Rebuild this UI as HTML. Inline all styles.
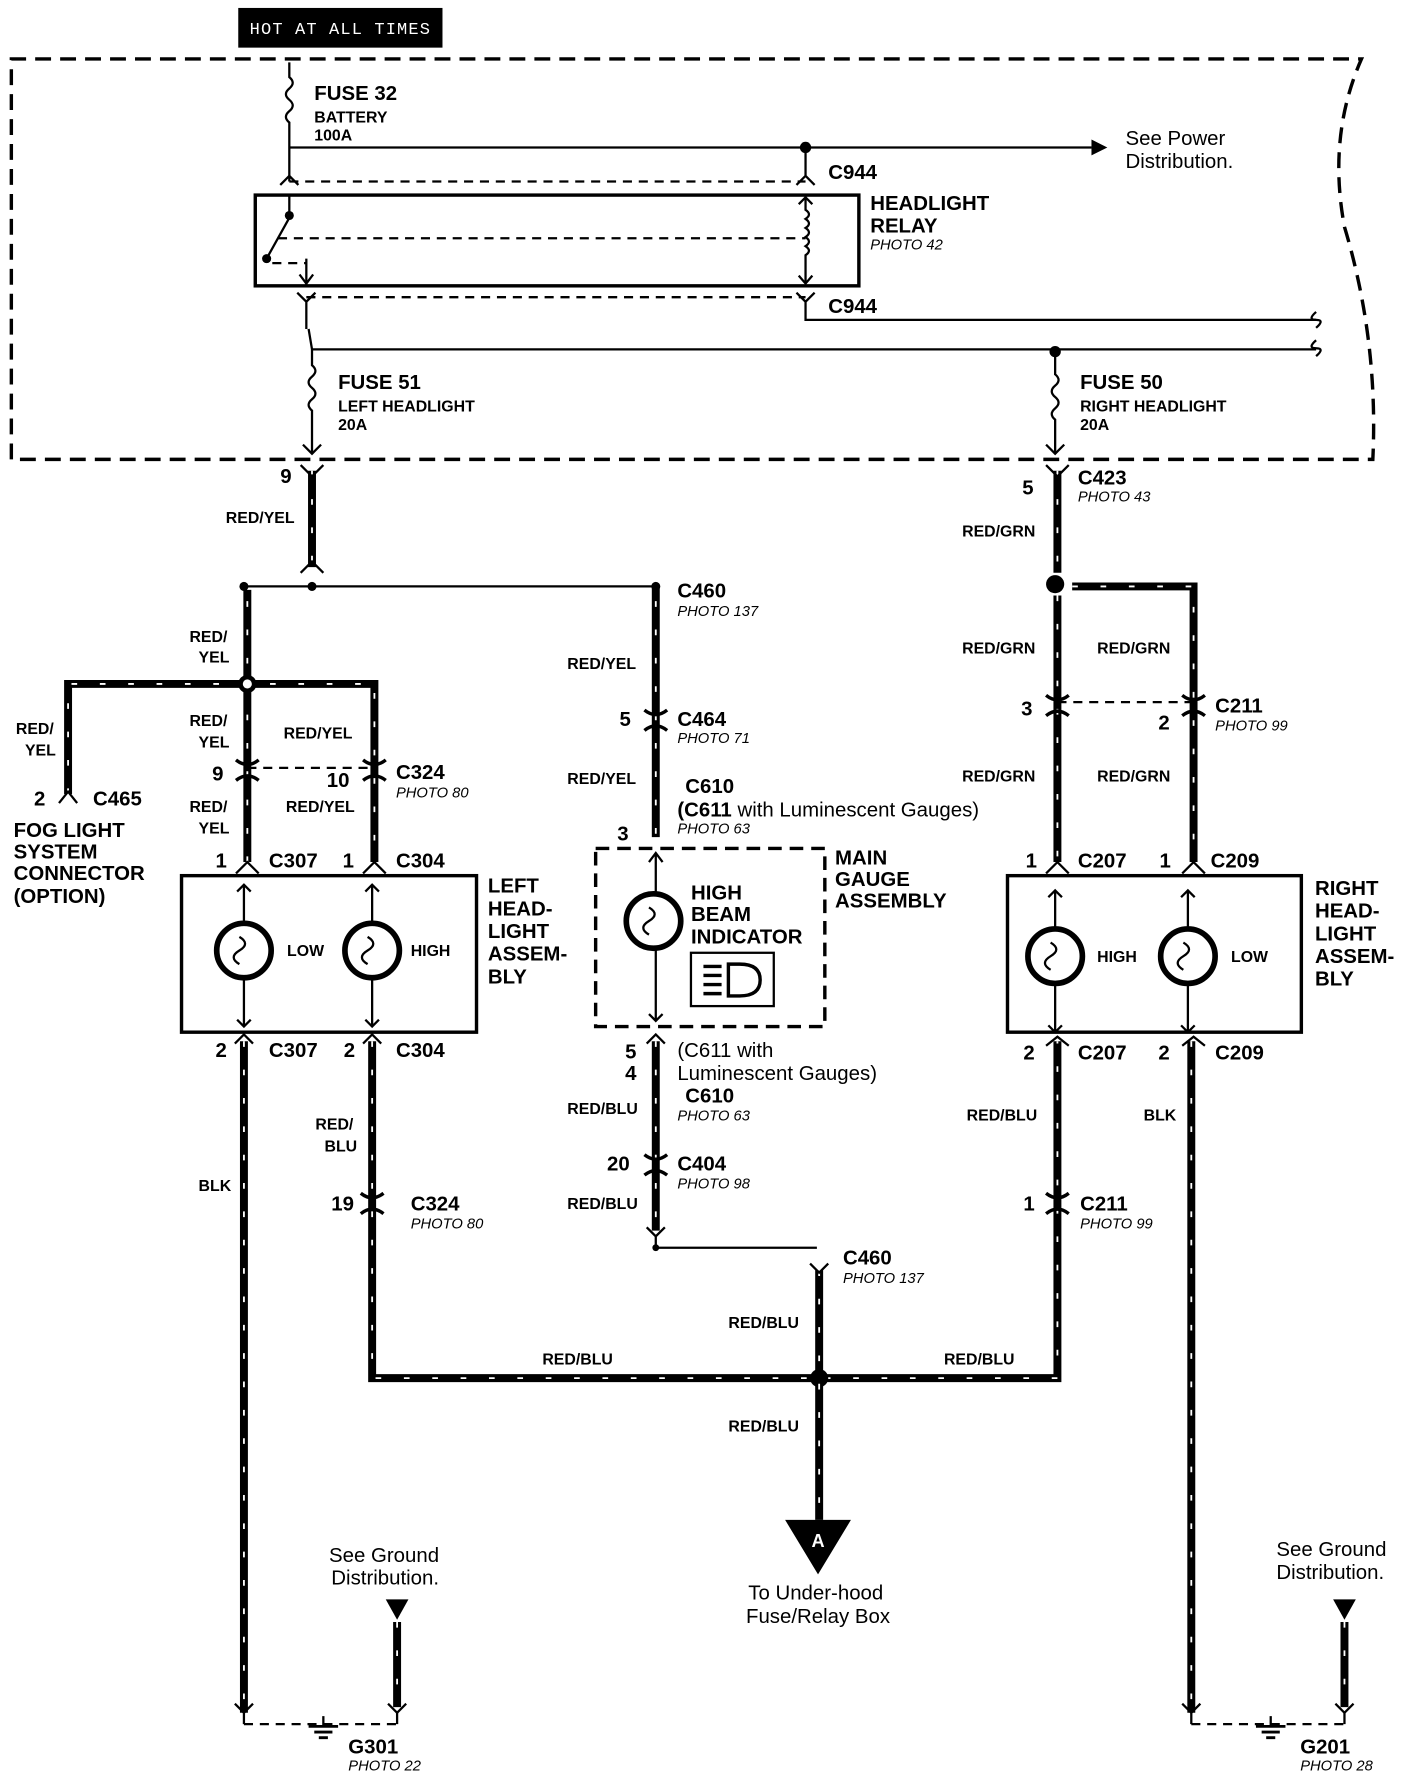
<!DOCTYPE html>
<html><head><meta charset="utf-8"><style>
html,body{margin:0;padding:0;background:#fff}
svg{display:block}
text{font-family:"Liberation Sans",Arial,sans-serif;fill:#000}
.b{font-weight:bold;font-size:18px}
.s{font-weight:bold;font-size:14px}
.i{font-style:italic;font-size:13px}
.n{font-size:18px}
.w{stroke:#000;stroke-width:7;fill:none}
.wd{stroke:#fff;stroke-width:1.6;stroke-dasharray:5 20;fill:none}
.t{stroke:#000;stroke-width:2;fill:none}
.d{stroke:#000;stroke-width:2;stroke-dasharray:8 6;fill:none}
.c{stroke:#000;stroke-width:3;fill:none}
</style></head><body>
<svg width="1408" height="1774" viewBox="0 0 1241 1564" preserveAspectRatio="none" xmlns="http://www.w3.org/2000/svg">
<rect x="210" y="7" width="180" height="35" fill="#000"/>
<text x="300" y="30" text-anchor="middle" style="fill:#fff;font-size:15px;font-family:'Liberation Mono',monospace;letter-spacing:1px">HOT AT ALL TIMES</text>
<path d="M10,405 L10,52 L1200,52 Q1170,120 1185,200 Q1215,300 1210,405 L10,405" fill="none" stroke="#000" stroke-width="3" stroke-dasharray="14 8"/>
<path class="t" d="M255,55 L255,68 q6,5 0,10 q-6,5 0,10 q6,5 0,10 q-6,5 0,10 L255,160"/>
<text class="b" x="277" y="88">FUSE 32</text><text class="s" x="277" y="108">BATTERY</text><text class="s" x="277" y="124">100A</text>
<line class="t" x1="255" y1="130" x2="962" y2="130"/><polygon points="962,123 976,130 962,137"/>
<circle cx="710" cy="130" r="5"/>
<text class="n" x="992" y="128">See Power</text><text class="n" x="992" y="148">Distribution.</text>
<path class="t" d="M710,130 L710,155 M702,163 L710,155 L718,163 M247,163 L255,155 L263,163"/>
<line class="d" x1="255" y1="160" x2="710" y2="160"/>
<text class="b" x="730" y="158">C944</text>
<rect x="225" y="172" width="532" height="80" fill="none" stroke="#000" stroke-width="3"/>
<text class="b" x="767" y="185">HEADLIGHT</text><text class="b" x="767" y="205">RELAY</text><text class="i" x="767" y="220">PHOTO 42</text>
<path class="t" d="M255,172 L255,190 M235,228 L255,192 M270,228 L270,252"/>
<circle cx="235" cy="228" r="4"/><circle cx="255" cy="190" r="4"/>
<line class="d" x1="245" y1="210" x2="710" y2="210"/><line class="d" x1="240" y1="232" x2="270" y2="232"/>
<path class="t" d="M710,172 L710,185 q6,4 0,8 q6,4 0,8 q6,4 0,8 q6,4 0,8 q6,4 0,8 L710,250 M704,243 L710,250 L716,243 M704,180 L710,174 L716,180 M264,242 L270,250 L276,242"/>
<path class="t" d="M262,258 L270,266 L278,258 M702,258 L710,266 L718,258 M270,266 L270,290 M710,266 L710,282 L1160,282"/>
<line class="d" x1="270" y1="262" x2="710" y2="262"/>
<text class="b" x="730" y="276">C944</text>
<path class="t" d="M1160,275 q-8,7 0,7 q8,0 0,7 M1160,300 q-8,7 0,7 q8,0 0,7"/>
<line class="t" x1="275" y1="308" x2="1160" y2="308"/>
<circle cx="930" cy="310" r="5"/>
<path class="t" d="M272,290 L275,308 L275,322 q6,5 0,10 q-6,5 0,10 q6,5 0,10 q-6,5 0,10 L275,400 M267,392 L275,400 L283,392"/>
<path class="t" d="M930,310 L930,330 q6,5 0,10 q-6,5 0,10 q6,5 0,10 q-6,5 0,10 L930,400 M922,392 L930,400 L938,392"/>
<text class="b" x="298" y="343">FUSE 51</text><text class="s" x="298" y="363">LEFT HEADLIGHT</text><text class="s" x="298" y="379">20A</text>
<text class="b" x="952" y="343">FUSE 50</text><text class="s" x="952" y="363">RIGHT HEADLIGHT</text><text class="s" x="952" y="379">20A</text>
<text class="b" x="247" y="426">9</text><text class="b" x="901" y="436">5</text>
<text class="b" x="950" y="427">C423</text><text class="i" x="950" y="442">PHOTO 43</text>
<path class="w" d="M275,415 L275,500"/><path class="wd" d="M275,415 L275,500"/>
<path class="t" d="M265,410 L275,420 L285,410 M265,505 L275,495 L285,505"/>
<text class="s" x="199" y="461">RED/YEL</text>
<line class="t" x1="215" y1="517" x2="578" y2="517"/>
<circle cx="215" cy="517" r="4"/><circle cx="275" cy="517" r="4"/><circle cx="578" cy="517" r="4"/>
<text class="b" x="597" y="527">C460</text><text class="i" x="597" y="543">PHOTO 137</text>
<path class="w" d="M218,520 L218,760"/><path class="wd" d="M218,530 L218,760"/>
<path class="w" d="M60,700 L60,603 L330,603 L330,760"/><path class="wd" d="M60,700 L60,603 L330,603 L330,760"/>
<circle cx="218" cy="603" r="8" fill="#000"/><circle cx="218" cy="603" r="4" fill="#fff"/>
<path class="t" d="M52,708 L60,698 L68,708"/>
<text class="s" x="167" y="566">RED/</text><text class="s" x="175" y="584">YEL</text>
<text class="s" x="14" y="647">RED/</text><text class="s" x="22" y="666">YEL</text>
<text class="s" x="167" y="640">RED/</text><text class="s" x="175" y="659">YEL</text>
<text class="s" x="250" y="651">RED/YEL</text>
<text class="s" x="167" y="716">RED/</text><text class="s" x="175" y="735">YEL</text>
<text class="s" x="252" y="716">RED/YEL</text>
<line class="d" x1="218" y1="677" x2="330" y2="677"/>
<path class="c" d="M208,670 q10,8 20,0 M208,688 q10,-8 20,0 M320,670 q10,8 20,0 M320,688 q10,-8 20,0"/>
<text class="b" x="187" y="688">9</text><text class="b" x="288" y="694">10</text>
<text class="b" x="349" y="687">C324</text><text class="i" x="349" y="703">PHOTO 80</text>
<text class="b" x="30" y="710">2</text><text class="b" x="82" y="710">C465</text>
<text class="b" x="12" y="738">FOG LIGHT</text><text class="b" x="12" y="757">SYSTEM</text><text class="b" x="12" y="776">CONNECTOR</text><text class="b" x="12" y="796">(OPTION)</text>
<path class="t" d="M208,770 L218,760 L228,770 M320,770 L330,760 L340,770"/>
<text class="b" x="190" y="765">1</text><text class="b" x="237" y="765">C307</text><text class="b" x="302" y="765">1</text><text class="b" x="349" y="765">C304</text>
<rect x="160" y="772" width="260" height="138" fill="none" stroke="#000" stroke-width="3"/>
<text class="b" x="430" y="787">LEFT</text><text class="b" x="430" y="807">HEAD-</text><text class="b" x="430" y="827">LIGHT</text><text class="b" x="430" y="847">ASSEM-</text><text class="b" x="430" y="867">BLY</text>
<g id="lampL">
<path class="t" d="M215,780 L215,813 M209,786 L215,780 L221,786 M215,863 L215,905 M209,899 L215,905 L221,899"/>
<circle cx="215" cy="838" r="24" fill="none" stroke="#000" stroke-width="5"/>
<path class="t" d="M211,826 q10,6 0,12 q-10,6 0,12"/>
</g>
<use href="#lampL" x="113"/>
<text class="s" x="253" y="843">LOW</text><text class="s" x="362" y="843">HIGH</text>
<path class="t" d="M207,920 L215,912 L223,920 M320,920 L328,912 L336,920"/>
<text class="b" x="190" y="932">2</text><text class="b" x="237" y="932">C307</text><text class="b" x="303" y="932">2</text><text class="b" x="349" y="932">C304</text>
<path class="w" d="M215,918 L215,1510"/><path class="wd" d="M215,918 L215,1510"/>
<text class="s" x="175" y="1050">BLK</text>
<path class="w" d="M328,918 L328,1215 L717,1215"/><path class="wd" d="M328,918 L328,1215 L717,1215"/>
<path class="w" d="M727,1215 L932,1215 L932,918"/><path class="wd" d="M727,1215 L932,1215 L932,918"/>
<text class="s" x="278" y="996">RED/</text><text class="s" x="286" y="1015">BLU</text>
<path class="c" d="M318,1052 q10,8 20,0 M318,1070 q10,-8 20,0"/>
<text class="b" x="292" y="1067">19</text><text class="b" x="362" y="1067">C324</text><text class="i" x="362" y="1083">PHOTO 80</text>
<text class="s" x="478" y="1203">RED/BLU</text><text class="s" x="832" y="1203">RED/BLU</text>
<circle cx="722" cy="1215" r="8"/>
<path class="w" d="M578,517 L578,738"/><path class="wd" d="M578,530 L578,738"/>
<path class="c" d="M568,626 q10,8 20,0 M568,644 q10,-8 20,0"/>
<text class="s" x="500" y="590">RED/YEL</text><text class="s" x="500" y="691">RED/YEL</text>
<text class="b" x="546" y="640">5</text><text class="b" x="597" y="640">C464</text><text class="i" x="597" y="655">PHOTO 71</text>
<text class="b" x="604" y="699">C610</text><text class="n" x="597" y="720"><tspan font-weight="bold">(C611</tspan> with Luminescent Gauges)</text><text class="i" x="597" y="735">PHOTO 63</text>
<text class="b" x="544" y="741">3</text>
<rect x="525" y="748" width="202" height="157" fill="none" stroke="#000" stroke-width="3" stroke-dasharray="12 7"/>
<text class="b" x="736" y="762">MAIN</text><text class="b" x="736" y="781">GAUGE</text><text class="b" x="736" y="800">ASSEMBLY</text>
<path class="t" d="M578,752 L578,788 M572,760 L578,752 L584,760 M578,837 L578,900 M572,894 L578,900 L584,894"/>
<circle cx="576" cy="812" r="24" fill="none" stroke="#000" stroke-width="5"/>
<path class="t" d="M572,800 q10,6 0,12 q-10,6 0,12"/>
<text class="b" x="609" y="793">HIGH</text><text class="b" x="609" y="812">BEAM</text><text class="b" x="609" y="832">INDICATOR</text>
<rect x="609" y="840" width="73" height="47" fill="none" stroke="#000" stroke-width="2"/>
<path d="M642,850 L642,878 L652,878 q18,0 18,-14 q0,-14 -18,-14 Z" fill="none" stroke="#000" stroke-width="3"/>
<path d="M620,852 h16 M620,860 h16 M620,868 h16 M620,876 h16" stroke="#000" stroke-width="3"/>
<path class="w" d="M578,918 L578,1085"/><path class="wd" d="M578,918 L578,1085"/>
<path class="t" d="M570,920 L578,912 L586,920 M570,1082 L578,1090 L586,1082 M578,1090 L578,1100 L720,1100"/>
<circle cx="578" cy="1100" r="3"/>
<text class="b" x="551" y="933">5</text><text class="b" x="551" y="952">4</text>
<text class="n" x="597" y="932">(C611 with</text><text class="n" x="597" y="952">Luminescent Gauges)</text>
<text class="b" x="604" y="972">C610</text><text class="i" x="597" y="988">PHOTO 63</text>
<text class="s" x="500" y="982">RED/BLU</text><text class="s" x="500" y="1066">RED/BLU</text>
<path class="c" d="M568,1018 q10,8 20,0 M568,1036 q10,-8 20,0"/>
<text class="b" x="535" y="1032">20</text><text class="b" x="597" y="1032">C404</text><text class="i" x="597" y="1048">PHOTO 98</text>
<path class="w" d="M722,1120 L722,1340"/><path class="wd" d="M722,1120 L722,1340"/>
<path class="t" d="M714,1114 L722,1122 L730,1114"/>
<text class="b" x="743" y="1115">C460</text><text class="i" x="743" y="1131">PHOTO 137</text>
<text class="s" x="642" y="1171">RED/BLU</text><text class="s" x="642" y="1262">RED/BLU</text>
<polygon points="692,1340 750,1340 721,1388"/>
<text x="721" y="1364" text-anchor="middle" style="fill:#fff;font-weight:bold;font-size:16px">A</text>
<text class="n" x="719" y="1410" text-anchor="middle">To Under-hood</text><text class="n" x="721" y="1431" text-anchor="middle">Fuse/Relay Box</text>
<path class="w" d="M932,415 L932,505"/><path class="wd" d="M932,415 L932,505"/>
<path class="t" d="M922,410 L932,420 L942,410"/>
<text class="s" x="848" y="473">RED/GRN</text>
<circle cx="930" cy="515" r="8"/>
<path class="w" d="M932,525 L932,760"/><path class="wd" d="M932,525 L932,760"/>
<path class="w" d="M945,517 L1052,517 L1052,760"/><path class="wd" d="M945,517 L1052,517 L1052,760"/>
<text class="s" x="848" y="576">RED/GRN</text><text class="s" x="967" y="576">RED/GRN</text>
<text class="s" x="848" y="689">RED/GRN</text><text class="s" x="967" y="689">RED/GRN</text>
<line class="d" x1="932" y1="619" x2="1052" y2="619"/>
<path class="c" d="M922,613 q10,8 20,0 M922,631 q10,-8 20,0 M1042,613 q10,8 20,0 M1042,631 q10,-8 20,0"/>
<text class="b" x="900" y="631">3</text><text class="b" x="1021" y="643">2</text>
<text class="b" x="1071" y="628">C211</text><text class="i" x="1071" y="644">PHOTO 99</text>
<path class="t" d="M922,770 L932,760 L942,770 M1042,770 L1052,760 L1062,770"/>
<text class="b" x="904" y="765">1</text><text class="b" x="950" y="765">C207</text><text class="b" x="1022" y="765">1</text><text class="b" x="1067" y="765">C209</text>
<rect x="888" y="772" width="259" height="138" fill="none" stroke="#000" stroke-width="3"/>
<use href="#lampL" x="715" y="5"/><use href="#lampL" x="832" y="5"/>
<text class="s" x="967" y="848">HIGH</text><text class="s" x="1085" y="848">LOW</text>
<text class="b" x="1159" y="789">RIGHT</text><text class="b" x="1159" y="809">HEAD-</text><text class="b" x="1159" y="829">LIGHT</text><text class="b" x="1159" y="849">ASSEM-</text><text class="b" x="1159" y="869">BLY</text>
<path class="t" d="M922,922 L932,914 L942,922 M1042,922 L1052,914 L1062,922"/>
<text class="b" x="902" y="934">2</text><text class="b" x="950" y="934">C207</text><text class="b" x="1021" y="934">2</text><text class="b" x="1071" y="934">C209</text>
<path class="w" d="M1050,918 L1050,1510"/><path class="wd" d="M1050,918 L1050,1510"/>
<text class="s" x="852" y="988">RED/BLU</text><text class="s" x="1008" y="988">BLK</text>
<path class="c" d="M922,1052 q10,8 20,0 M922,1070 q10,-8 20,0"/>
<text class="b" x="902" y="1067">1</text><text class="b" x="952" y="1067">C211</text><text class="i" x="952" y="1083">PHOTO 99</text>
<g id="gnd">
<path class="t" d="M207,1502 L215,1510 L223,1502 M342,1502 L350,1510 L358,1502"/>
<line class="d" x1="215" y1="1520" x2="350" y2="1520"/>
<path class="t" d="M215,1510 L215,1520 M350,1510 L350,1520 M285,1513 L285,1522"/>
<path d="M272,1522 h26 M277,1527 h16 M281,1532 h8" stroke="#000" stroke-width="2.5"/>
<path class="w" d="M350,1430 L350,1505"/><path class="wd" d="M350,1430 L350,1505"/>
<polygon points="340,1410 360,1410 350,1428"/>
</g>
<use href="#gnd" x="835" y="0"/>
<text class="n" x="290" y="1377">See Ground</text><text class="n" x="292" y="1397">Distribution.</text>
<text class="b" x="307" y="1546">G301</text><text class="i" x="307" y="1561">PHOTO 22</text>
<text class="n" x="1125" y="1372">See Ground</text><text class="n" x="1125" y="1392">Distribution.</text>
<text class="b" x="1146" y="1546">G201</text><text class="i" x="1146" y="1561">PHOTO 28</text>
</svg>
</body></html>
